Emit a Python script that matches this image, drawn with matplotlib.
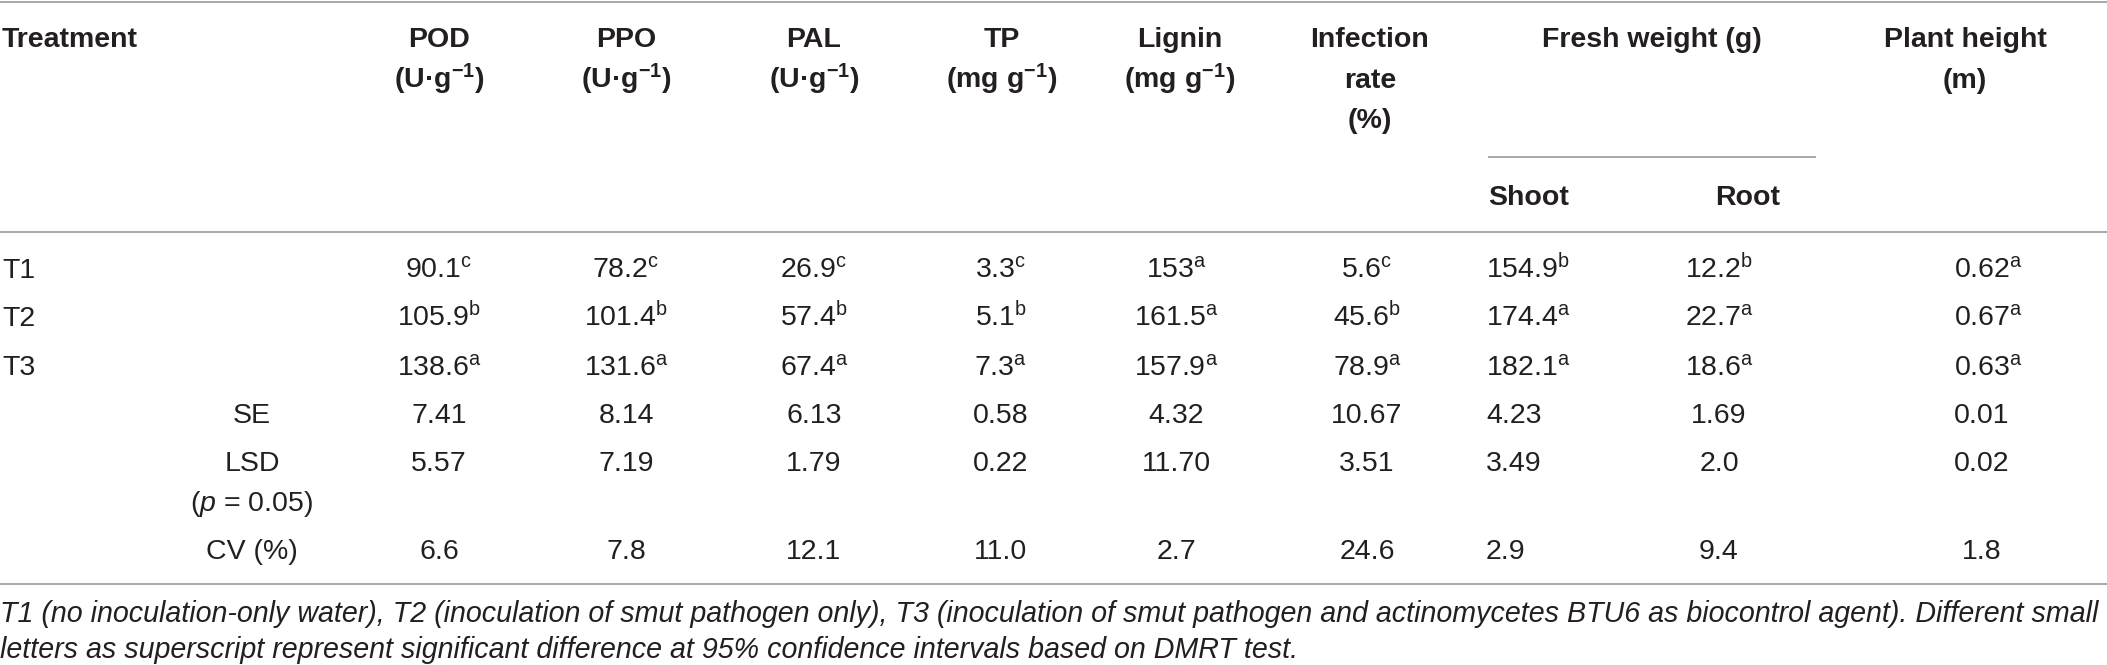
import matplotlib
matplotlib.use("Agg")
import matplotlib.pyplot as plt

plt.rcParams['font.family'] = ['Liberation Sans', 'DejaVu Sans']
plt.rcParams['mathtext.fontset'] = 'custom'
plt.rcParams['mathtext.rm'] = 'Liberation Sans'
plt.rcParams['mathtext.it'] = 'Liberation Sans:italic'
plt.rcParams['mathtext.bf'] = 'Liberation Sans:bold'

# ---------------- data ----------------
treatments = ["T1", "T2", "T3"]
pod = ["90.1", "105.9", "138.6"];      pod_sig = ["c", "b", "a"]
ppo = ["78.2", "101.4", "131.6"];      ppo_sig = ["c", "b", "a"]
pal = ["26.9", "57.4", "67.4"];        pal_sig = ["c", "b", "a"]
tp = ["3.3", "5.1", "7.3"];            tp_sig = ["c", "b", "a"]
lignin = ["153", "161.5", "157.9"];    lignin_sig = ["a", "a", "a"]
infection = ["5.6", "45.6", "78.9"];   infection_sig = ["c", "b", "a"]
shoot = ["154.9", "174.4", "182.1"];   shoot_sig = ["b", "a", "a"]
root = ["12.2", "22.7", "18.6"];       root_sig = ["b", "a", "a"]
height = ["0.62", "0.67", "0.63"];     height_sig = ["a", "a", "a"]

se_vals = ["7.41", "8.14", "6.13", "0.58", "4.32", "10.67", "4.23", "1.69", "0.01"]
lsd_vals = ["5.57", "7.19", "1.79", "0.22", "11.70", "3.51", "3.49", "2.0", "0.02"]
cv_vals = ["6.6", "7.8", "12.1", "11.0", "2.7", "24.6", "2.9", "9.4", "1.8"]
stat_labels = ["SE", "LSD", "CV (%)"]

unit = "(U·g$^{\\mathbf{-1}}$)"
munit = "(mg g$^{\\mathbf{-1}}$)"
header_texts = [["POD", unit], ["PPO", unit], ["PAL", unit], ["TP", munit],
                ["Lignin", munit], ["Infection", "rate", "(%)"],
                ["Fresh weight (g)"], ["Plant height", "(m)"]]
sub_headers = ["Shoot", "Root"]

footnote = ["T1 (no inoculation-only water), T2 (inoculation of smut pathogen only), "
            "T3 (inoculation of smut pathogen and actinomycetes BTU6 as biocontrol agent). Different small",
            "letters as superscript represent significant difference at 95% confidence intervals based on DMRT test."]

# ---------------- layout (pixel coordinates) ----------------
W, H = 2107, 665
TXT = "#231f20"
RULE = "#a8a8a8"
FS = 20.5

fig = plt.figure(figsize=(W / 100, H / 100), dpi=100)
ax = fig.add_axes([0, 0, 1, 1])
ax.set_xlim(0, W)
ax.set_ylim(H, 0)
ax.axis("off")

header_x = [439, 626, 814, 1002, 1180, 1370, 1652, 1965]
header_base = [47, 88, 128]
for hx, lines in zip(header_x, header_texts):
    for yb, t in zip(header_base, lines):
        ax.text(hx, yb, t, ha="center", va="baseline", fontsize=FS,
                fontweight="bold", color=TXT)
ax.text(2, header_base[0], "Treatment", ha="left", va="baseline",
        fontsize=FS, fontweight="bold", color=TXT)

ax.text(1488, 205, sub_headers[0], ha="left", va="baseline", fontsize=FS,
        fontweight="bold", color=TXT)
ax.text(1748, 205, sub_headers[1], ha="center", va="baseline", fontsize=FS,
        fontweight="bold", color=TXT)

# rules
ax.plot([0, W], [2, 2], color=RULE, lw=1.4, solid_capstyle="butt")
ax.plot([1488, 1816], [157, 157], color=RULE, lw=1.4, solid_capstyle="butt")
ax.plot([0, W], [232, 232], color=RULE, lw=1.4, solid_capstyle="butt")
ax.plot([0, W], [584, 584], color=RULE, lw=1.4, solid_capstyle="butt")

# data columns: (values, sigs, x, align)
columns = [(pod, pod_sig, 439, "center"), (ppo, ppo_sig, 626, "center"),
           (pal, pal_sig, 814, "center"), (tp, tp_sig, 1001, "center"),
           (lignin, lignin_sig, 1176, "center"), (infection, infection_sig, 1367, "center"),
           (shoot, shoot_sig, 1486, "left"), (root, root_sig, 1719, "center"),
           (height, height_sig, 1988, "center")]
row_base = [278, 326, 375]
for i, tname in enumerate(treatments):
    ax.text(2, row_base[i], tname, ha="left", va="baseline", fontsize=FS, color=TXT)
    for vals, sigs, cx, al in columns:
        s = vals[i] + "$^{\\mathrm{" + sigs[i] + "}}$"
        ax.text(cx, row_base[i], s, ha=al, va="baseline", fontsize=FS, color=TXT)

stat_base = [423, 471, 559]
stat_rows = [se_vals, lsd_vals, cv_vals]
for lab, yb, vals in zip(stat_labels, stat_base, stat_rows):
    ax.text(252, yb, lab, ha="center", va="baseline", fontsize=FS, color=TXT)
    for v, (_, _, cx, al) in zip(vals, columns):
        xx = cx
        if al == "center" and cx > 1900:
            xx = cx - 6
        ax.text(xx, yb, v, ha=al, va="baseline", fontsize=FS, color=TXT)
ax.text(252, 511, "($p$ = 0.05)", ha="center", va="baseline", fontsize=FS, color=TXT)

# footnote, sized to span the full width
f1 = ax.text(0, 622, footnote[0], ha="left", va="baseline", fontsize=FS,
             fontstyle="italic", color=TXT)
f2 = ax.text(0, 658, footnote[1], ha="left", va="baseline", fontsize=FS,
             fontstyle="italic", color=TXT)
r = fig.canvas.get_renderer()
wpx = f1.get_window_extent(renderer=r).width
fs2 = FS * 2103 / wpx
f1.set_fontsize(fs2)
f2.set_fontsize(fs2)

fig.savefig("out.png", dpi=100, facecolor="white")
